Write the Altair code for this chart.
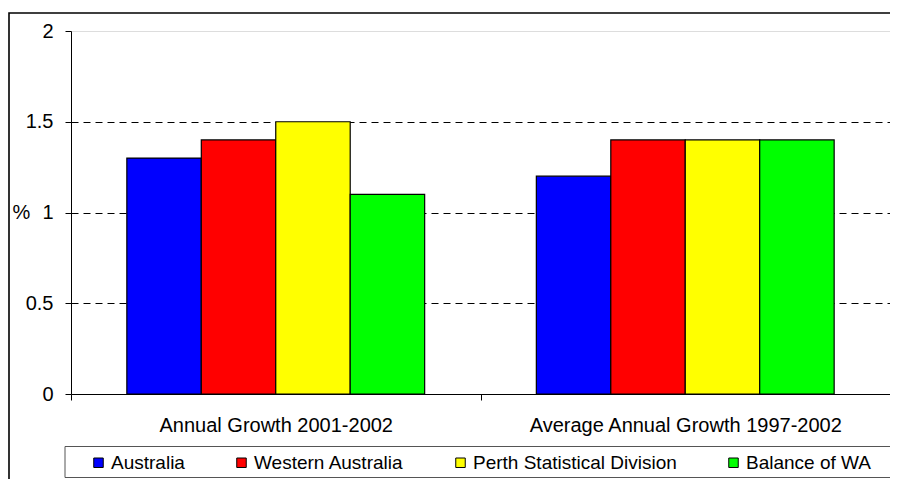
import altair as alt
import pandas as pd

groups = ["Annual Growth 2001-2002", "Average Annual Growth 1997-2002"]
series = ["Australia", "Western Australia", "Perth Statistical Division", "Balance of WA"]
colors = ["#0000FF", "#FF0000", "#FFFF00", "#00FF00"]
values_2001_2002 = [1.3, 1.4, 1.5, 1.1]
values_1997_2002 = [1.2, 1.4, 1.4, 1.4]
y_ticks = [0, 0.5, 1, 1.5, 2]

rows = []
for s, v in zip(series, values_2001_2002):
    rows.append({"group": groups[0], "series": s, "value": v})
for s, v in zip(series, values_1997_2002):
    rows.append({"group": groups[1], "series": s, "value": v})
df = pd.DataFrame(rows)

FONT = "Liberation Sans"

bars = alt.Chart(df).mark_bar(stroke="#000000", strokeWidth=1.2).encode(
    x=alt.X(
        "group:N",
        sort=groups,
        scale=alt.Scale(paddingInner=0, paddingOuter=0),
        axis=alt.Axis(
            title=None,
            labelAngle=0,
            labelFont=FONT,
            labelFontSize=20,
            labelColor="#000000",
            labelPadding=15,
            labelLimit=0,
            tickBand="extent",
            tickSize=6,
            tickColor="#000000",
            domainColor="#000000",
            domainWidth=1,
            grid=False,
        ),
    ),
    xOffset=alt.XOffset(
        "series:N",
        sort=series,
        scale=alt.Scale(paddingInner=0, paddingOuter=0.75),
    ),
    y=alt.Y(
        "value:Q",
        scale=alt.Scale(domain=[0, 2], nice=False),
        axis=alt.Axis(
            values=y_ticks,
            format="~g",
            title="%",
            titleAngle=0,
            titleFont=FONT,
            titleFontSize=20,
            titleFontWeight="normal",
            titleColor="#000000",
            titleX=-59,
            titleY=181.5,
            titleAlign="left",
            titleBaseline="middle",
            labelFont=FONT,
            labelFontSize=20,
            labelColor="#000000",
            labelPadding=12,
            tickSize=6,
            tickColor="#000000",
            domainColor="#000000",
            grid=True,
            gridColor="#000000",
            gridDash=[7, 5],
            gridOpacity={"condition": {"test": "datum.value === 0 || datum.value === 2", "value": 0}, "value": 1},
        ),
    ),
    color=alt.Color(
        "series:N",
        sort=series,
        scale=alt.Scale(domain=series, range=colors),
        legend=alt.Legend(
            title=None,
            orient="none",
            direction="horizontal",
            legendX=18,
            legendY=422,
            columns=4,
            columnPadding=47,
            padding=0,
            symbolType="square",
            symbolSize=90,
            symbolStrokeColor="#000000",
            symbolStrokeWidth=1,
            symbolOpacity=1,
            labelFont=FONT,
            labelFontSize=19,
            labelColor="#000000",
            labelOffset=3,
            labelLimit=0,
        ),
    ),
)

frame_data = alt.Data(values=[{"k": 1}])

outer_box = alt.Chart(frame_data).mark_rect(
    fillOpacity=0, stroke="#000000", strokeWidth=1.6
).encode(
    x=alt.value(-62), x2=alt.value(840), y=alt.value(-18), y2=alt.value(480)
)

legend_box = alt.Chart(frame_data).mark_rect(
    fillOpacity=0, stroke="#555555", strokeWidth=1
).encode(
    x=alt.value(-6), x2=alt.value(840), y=alt.value(415.5), y2=alt.value(446.5)
)

chart = alt.layer(outer_box, legend_box, bars).properties(
    width=819,
    height=363,
    autosize=alt.AutoSizeParams(type="none"),
    padding={"left": 63, "top": 23, "right": 0, "bottom": 85},
).configure_view(
    stroke="#808080", strokeWidth=1
).configure(
    font=FONT
)

chart.save("out.html", embed_options={"renderer": "svg", "actions": False})
